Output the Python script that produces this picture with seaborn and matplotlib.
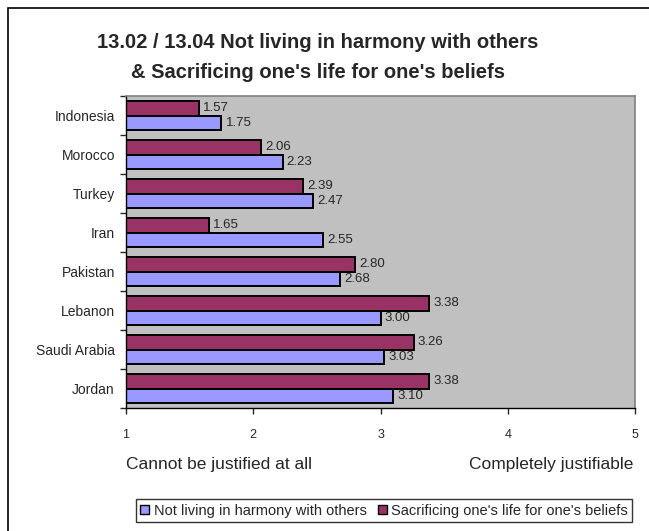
import pandas as pd
import seaborn as sns
import matplotlib.pyplot as plt
from matplotlib.patches import Patch, Rectangle

countries = ["Indonesia", "Morocco", "Turkey", "Iran", "Pakistan",
             "Lebanon", "Saudi Arabia", "Jordan"]
not_living = [1.75, 2.23, 2.47, 2.55, 2.68, 3.00, 3.03, 3.10]
sacrificing = [1.57, 2.06, 2.39, 1.65, 2.80, 3.38, 3.26, 3.38]
series_names = ["Not living in harmony with others",
                "Sacrificing one's life for one's beliefs"]
colors = {series_names[0]: "#9999FF", series_names[1]: "#993366"}
x_ticks = [1, 2, 3, 4, 5]

df = pd.DataFrame({
    "country": countries * 2,
    "value": not_living + sacrificing,
    "series": [series_names[0]] * len(countries) + [series_names[1]] * len(countries),
})

sns.set_style("white")
plt.rcParams["font.family"] = ["Liberation Sans", "DejaVu Sans"]

fig = plt.figure(figsize=(6.49, 5.31), dpi=100)
ax = fig.add_axes([126 / 649, 1 - 408 / 531, 509 / 649, 312 / 531])
ax.set_facecolor("#C0C0C0")

# maroon series drawn on top within each band
sns.barplot(
    data=df, y="country", x="value", hue="series",
    hue_order=[series_names[1], series_names[0]], order=countries,
    palette=colors, orient="h", width=0.74, gap=0,
    edgecolor="black", linewidth=1.4, saturation=1, ax=ax, legend=False,
)

ax.set_xlim(1, 5)
ax.set_ylim(len(countries) - 0.5, -0.5)
ax.set_xticks(x_ticks)
ax.set_xticklabels([str(t) for t in x_ticks], fontsize=9)
ax.tick_params(axis="x", length=4, width=1, direction="out", pad=11, bottom=True)
ax.set_yticks(range(len(countries)))
ax.set_yticklabels(countries, fontsize=10)
ax.tick_params(axis="y", length=0, pad=8)
ax.set_yticks([i - 0.5 for i in range(len(countries) + 1)], minor=True)
ax.tick_params(axis="y", which="minor", length=4, width=1, direction="out", left=True)
ax.set_xlabel("")
ax.set_ylabel("")

for side in ["top", "right"]:
    ax.spines[side].set_color("#808080")
    ax.spines[side].set_linewidth(1.2)
for side in ["left", "bottom"]:
    ax.spines[side].set_color("black")
    ax.spines[side].set_linewidth(1)

for container in ax.containers:
    ax.bar_label(container, fmt="%.2f", padding=3, fontsize=9.5)

fig.text(318 / 649, 1 - 43 / 531, "13.02 / 13.04 Not living in harmony with others",
         ha="center", va="center", fontsize=14.5, fontweight="bold")
fig.text(318 / 649, 1 - 72 / 531, "& Sacrificing one's life for one's beliefs",
         ha="center", va="center", fontsize=14.5, fontweight="bold")

fig.text(126 / 649, 1 - 465 / 531, "Cannot be justified at all",
         ha="left", va="center", fontsize=12.5)
fig.text(633 / 649, 1 - 465 / 531, "Completely justifiable",
         ha="right", va="center", fontsize=12.5)

handles = [Patch(facecolor=colors[s], edgecolor="black", linewidth=1) for s in series_names]
leg = fig.legend(handles, series_names, loc="lower left",
                 bbox_to_anchor=(136 / 649, 1 - 522 / 531), ncol=2, frameon=True,
                 fancybox=False, edgecolor="black", fontsize=10.5,
                 handlelength=0.6, handleheight=0.6, handletextpad=0.3,
                 columnspacing=0.8, borderpad=0.3, borderaxespad=0)
leg.get_frame().set_linewidth(1)

fig.patches.append(Rectangle((8 / 649, -0.1), 1.2, 1 - 8 / 531 + 0.1,
                             transform=fig.transFigure, fill=False,
                             edgecolor="black", linewidth=1.2))

fig.savefig("out.png", dpi=100)
